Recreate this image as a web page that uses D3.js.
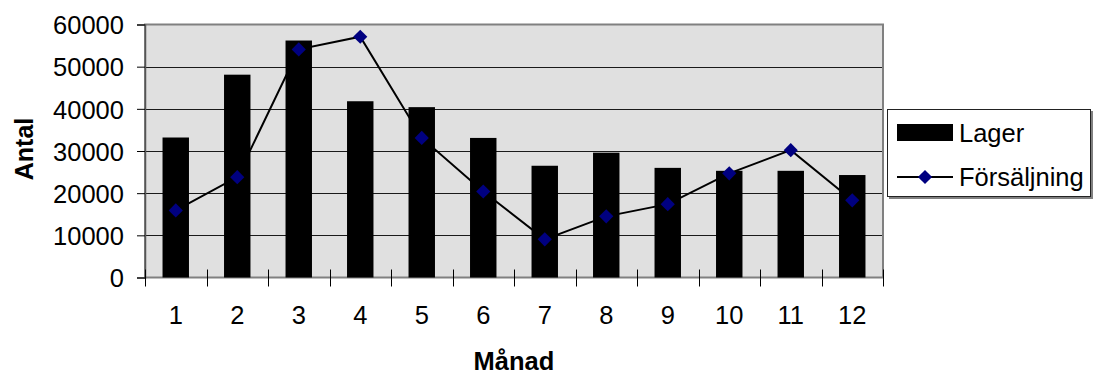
<!DOCTYPE html>
<html>
<head>
<meta charset="utf-8">
<script src="https://cdn.jsdelivr.net/npm/d3@7"></script>
<style>
  html, body { margin: 0; padding: 0; background: #ffffff; }
  svg { display: block; font-family: Arial, "Liberation Sans", sans-serif; }
</style>
</head>
<body>
<svg id="chart" width="1093" height="374"></svg>
<script>
// Monthly stock (Lager) and sales (Försäljning)
const months = [1, 2, 3, 4, 5, 6, 7, 8, 9, 10, 11, 12];
const lager = [33200, 48100, 56200, 41800, 40400, 33100, 26500, 29600, 26000, 25300, 25300, 24300];
const forsaljning = [15900, 23800, 54100, 57100, 33100, 20400, 9050, 14500, 17400, 24700, 30200, 18300];
const yTicks = [0, 10000, 20000, 30000, 40000, 50000, 60000];
const seriesNames = ["Lager", "Försäljning"];

const svg = d3.select("#chart");
const plot = { left: 145, right: 883, top: 24.5, bottom: 277.5 };

const x = d3.scaleBand().domain(months).range([plot.left, plot.right]).padding(0);
const y = d3.scaleLinear().domain([0, 60000]).range([plot.bottom, plot.top]);
const barFrac = 0.43;

// plot background
svg.append("rect")
  .attr("x", plot.left).attr("y", plot.top)
  .attr("width", plot.right - plot.left).attr("height", plot.bottom - plot.top)
  .attr("fill", "#e0e0e0");

// horizontal gridlines
svg.append("g").selectAll("line")
  .data(yTicks.filter(d => d > 0 && d < 60000))
  .join("line")
  .attr("x1", plot.left).attr("x2", plot.right)
  .attr("y1", d => Math.round(y(d)) + 0.5).attr("y2", d => Math.round(y(d)) + 0.5)
  .attr("stroke", "#1a1a1a").attr("stroke-width", 1);

// plot frame
svg.append("rect")
  .attr("x", plot.left).attr("y", plot.top)
  .attr("width", plot.right - plot.left).attr("height", plot.bottom - plot.top)
  .attr("fill", "none").attr("stroke", "#808080").attr("stroke-width", 2);

// bars
svg.append("g").selectAll("rect")
  .data(months.map((m, i) => ({ m, v: lager[i] })))
  .join("rect")
  .attr("x", d => x(d.m) + x.bandwidth() * (1 - barFrac) / 2)
  .attr("width", x.bandwidth() * barFrac)
  .attr("y", d => y(d.v))
  .attr("height", d => y(0) - y(d.v))
  .attr("fill", "#000000");

// left axis
const yAxis = d3.axisLeft(y).tickValues(yTicks).tickSize(8).tickPadding(13).tickFormat(d3.format("d"));
const gy = svg.append("g").attr("transform", `translate(${plot.left},0)`).call(yAxis);
gy.select(".domain").attr("stroke", "#555").attr("stroke-width", 1.5);
gy.selectAll(".tick line").attr("stroke", "#000");
gy.selectAll("text").attr("font-size", 25.5).attr("fill", "#000")
  .attr("font-family", "Arial, 'Liberation Sans', sans-serif").attr("dy", "0.36em");

// bottom axis: ticks at category boundaries
const boundaries = months.map(m => x(m)).concat([plot.right]);
svg.append("g").selectAll("line")
  .data(boundaries)
  .join("line")
  .attr("x1", d => Math.round(d) + 0.5).attr("x2", d => Math.round(d) + 0.5)
  .attr("y1", plot.bottom - 8).attr("y2", plot.bottom + 9)
  .attr("stroke", "#000").attr("stroke-width", 1);

const xAxis = d3.axisBottom(x).tickSize(0).tickPadding(0);
const gx = svg.append("g").attr("transform", `translate(0,${plot.bottom})`).call(xAxis);
gx.select(".domain").remove();
gx.selectAll("text").attr("font-size", 25.5).attr("fill", "#000")
  .attr("font-family", "Arial, 'Liberation Sans', sans-serif")
  .attr("y", 46.5).attr("dy", null);

// sales line with diamond markers
const line = d3.line()
  .x((d, i) => x(months[i]) + x.bandwidth() / 2)
  .y(d => y(d));
svg.append("path")
  .datum(forsaljning)
  .attr("d", line)
  .attr("fill", "none").attr("stroke", "#000").attr("stroke-width", 2);

const diamond = d3.symbol().type(d3.symbolDiamond2).size(128);
svg.append("g").selectAll("path")
  .data(forsaljning)
  .join("path")
  .attr("d", diamond)
  .attr("transform", (d, i) => `translate(${x(months[i]) + x.bandwidth() / 2},${y(d)})`)
  .attr("fill", "#000080");

// axis titles
svg.append("text")
  .attr("transform", `translate(33,149) rotate(-90)`)
  .attr("text-anchor", "middle")
  .attr("font-size", 25).attr("font-weight", "bold")
  .text("Antal");
svg.append("text")
  .attr("x", (plot.left + plot.right) / 2).attr("y", 370)
  .attr("text-anchor", "middle")
  .attr("font-size", 25.5).attr("font-weight", "bold")
  .text("Månad");

// legend
const lg = svg.append("g");
lg.append("rect").attr("x", 889).attr("y", 111).attr("width", 204).attr("height", 88).attr("fill", "#808080");
lg.append("rect").attr("x", 887.5).attr("y", 109.5).attr("width", 203).attr("height", 87)
  .attr("fill", "#fff").attr("stroke", "#222").attr("stroke-width", 1);
lg.append("rect").attr("x", 897).attr("y", 124).attr("width", 56).attr("height", 17).attr("fill", "#000");
lg.append("line").attr("x1", 897).attr("x2", 953).attr("y1", 177).attr("y2", 177)
  .attr("stroke", "#000").attr("stroke-width", 2);
lg.append("path").attr("d", diamond).attr("transform", "translate(925,177)").attr("fill", "#000080");
lg.selectAll("text.leg")
  .data(seriesNames)
  .join("text")
  .attr("class", "leg")
  .attr("x", 959)
  .attr("y", (d, i) => i === 0 ? 141.5 : 185.5)
  .attr("font-size", 25.5)
  .text(d => d);
</script>
</body>
</html>
